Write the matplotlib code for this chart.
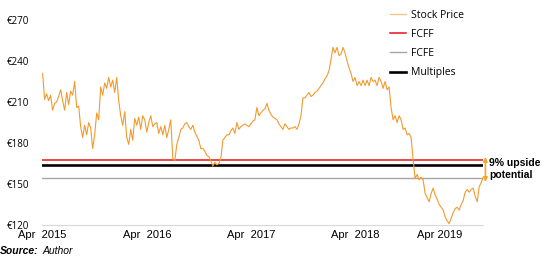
import pandas as pd
import matplotlib.pyplot as plt

# 株価（週次、画像から読み取り）
price = [
    231, 212, 216, 211, 215, 204, 209, 210, 214, 219, 211, 204, 217, 208, 218, 215,
    225, 206, 207, 192, 184, 193, 186, 195, 191, 176, 186, 202, 197, 221, 215, 224,
    220, 228, 221, 226, 217, 228, 211, 200, 193, 203, 184, 179, 190, 182, 198, 193,
    199, 190, 200, 197, 188, 195, 200, 192, 194, 195, 187, 192, 186, 193, 184, 190,
    197, 169, 167, 179, 184, 190, 191, 194, 195, 192, 190, 193, 188, 185, 182, 176,
    176, 174, 171, 170, 167, 163, 166, 164, 165, 169, 182, 184, 186, 186, 189, 191,
    187, 195, 190, 192, 193, 194, 193, 192, 194, 196, 197, 206, 200, 202, 204, 205,
    209, 204, 201, 199, 198, 197, 194, 192, 190, 194, 192, 190, 191, 191, 192, 190,
    194, 200, 213, 213, 215, 217, 214, 215, 217, 218, 220, 222, 224, 227, 229, 233,
    241, 250, 246, 250, 244, 245, 250, 246, 240, 235, 231, 225, 228, 222, 225, 222,
    226, 222, 226, 222, 228, 225, 226, 222, 228, 225, 220, 225, 219, 221, 206, 197,
    200, 195, 200, 197, 190, 191, 186, 187, 184, 168, 154, 157, 153, 155, 153, 143,
    140, 137, 143, 147, 142, 139, 135, 133, 131, 126, 123, 121, 125, 129, 132, 133,
    131, 135, 138, 144, 146, 144, 146, 147, 141, 137, 148, 151, 155,
]
dates = pd.date_range("2015-04-03", periods=len(price), freq="W-FRI")

# 評価結果
fcff = 167.6
fcfe = 154.4
multiples = 163.9

tick_dates = pd.to_datetime(["2015-04-01", "2016-04-01", "2017-04-01", "2018-04-01", "2019-01-20"])
tick_labels = ["Apr  2015", "Apr  2016", "Apr  2017", "Apr  2018", "Apr 2019"]
y_ticks = [120, 150, 180, 210, 240, 270]

orange = "#f39a2e"

fig = plt.figure(figsize=(5.46, 2.57), dpi=100)
ax = fig.add_axes([0.077, 0.1245, 0.808, 0.7975])

ax.plot(dates, price, color=orange, lw=0.8, label="Stock Price", zorder=3)
ax.axhline(fcff, color="#e8141b", lw=1.1, label="FCFF")
ax.axhline(fcfe, color="#a6a6a6", lw=1.0, label="FCFE")
ax.axhline(multiples, color="black", lw=1.9, label="Multiples")

ax.set_xlim(dates[0], dates[-1])
ax.set_ylim(120, 270)
ax.set_yticks(y_ticks)
ax.set_yticklabels([f"€{v}" for v in y_ticks], family="Open Sans", fontsize=7)
ax.set_xticks(tick_dates)
ax.set_xticklabels(tick_labels, family="Liberation Sans", fontsize=8)
ax.tick_params(axis="both", length=0)
ax.tick_params(axis="y", pad=9.5)
ax.tick_params(axis="x", pad=3.5)

for side in ["top", "right", "left"]:
    ax.spines[side].set_visible(False)
ax.spines["bottom"].set_color("#d9d9d9")

# 凡例
handles, labels = ax.get_legend_handles_labels()
handles[0] = plt.Line2D([], [], color="#f8c48a", lw=1.0)
leg = ax.legend(handles, labels, loc="upper left", bbox_to_anchor=(0.776, 1.075),
                frameon=False, borderpad=0, handlelength=1.6, handletextpad=0.5,
                labelspacing=0.78, prop={"family": "Open Sans", "size": 7.5})

# アップサイドの矢印
ax.annotate("", xy=(1.005, 169.8), xycoords=("axes fraction", "data"),
            xytext=(1.005, 151.5), textcoords=("axes fraction", "data"),
            arrowprops=dict(arrowstyle="<|-|>", color="#f5a623", lw=1.2,
                            mutation_scale=6, shrinkA=0, shrinkB=0))
ax.text(1.013, 161, "9% upside\npotential", transform=ax.get_yaxis_transform(),
        ha="left", va="center", fontsize=7.5, fontweight="bold",
        family="Liberation Sans", linespacing=1.2)

fig.text(0.0, 1 - 246 / 257, "Source:", fontsize=7.5, fontweight="bold",
         style="italic", family="Liberation Sans", va="top")
fig.text(0.078, 1 - 246 / 257, "Author", fontsize=7.5, style="italic",
         family="Liberation Sans", va="top")

fig.savefig("out.png", dpi=100)
